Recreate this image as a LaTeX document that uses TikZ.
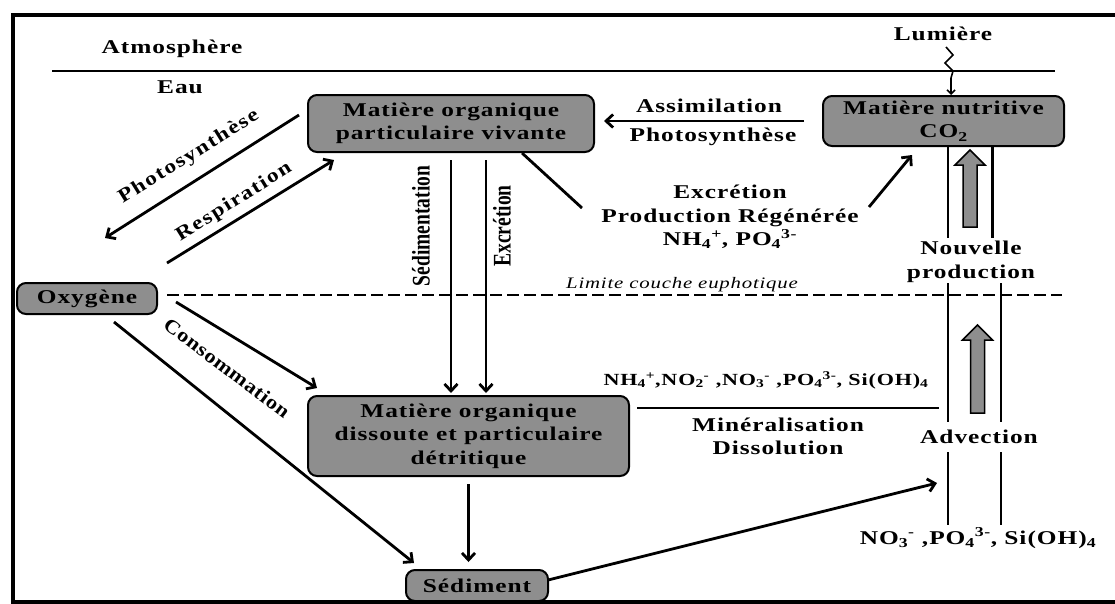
\documentclass[tikz,border=0pt]{standalone}
\usepackage{fontspec}
\usetikzlibrary{arrows.meta}
\newfontfamily\labfont{Liberation Serif}[FakeStretch=1.3, LetterSpace=5]
\newfontfamily\diagfont{Liberation Serif}[FakeStretch=1.2, LetterSpace=8]
\newfontfamily\consfont{Liberation Serif}[FakeStretch=1.15, LetterSpace=3]
\newfontfamily\plainfont{Liberation Serif}
\definecolor{boxgray}{RGB}{142,142,142}

% hollow grey arrow: x, bottom, tip
\newcommand{\grayup}[3]{%
  \filldraw[fill=boxgray, line width=1.5pt] (#1-7,#2) -- (#1-7,#3+15) -- (#1-15,#3+15) -- (#1,#3)
    -- (#1+15,#3+15) -- (#1+7,#3+15) -- (#1+7,#2) -- cycle;}

\begin{document}
\begin{tikzpicture}[x=1pt,y=-1pt,
  box/.style={draw, line width=2pt, rounded corners=9pt, fill=boxgray, align=center, inner sep=0pt,
    font=\labfont\bfseries\fontsize{19.5}{23.5}\selectfont},
  lbl/.style={align=center, inner sep=0pt, font=\labfont\bfseries\fontsize{19.5}{23.5}\selectfont},
  chem/.style={inner sep=0pt, font=\labfont\bfseries\fontsize{17}{20}\selectfont},
  slant/.style={inner sep=0pt, font=\diagfont\bfseries\fontsize{19.5}{23}\selectfont},
  vert/.style={inner sep=0pt, rotate=90, yscale=1.3, font=\plainfont\bfseries\fontsize{19.5}{23}\selectfont},
  arr/.style={line width=2.8pt, -{Straight Barb[length=7pt,width=13pt]}},
  flux/.style={line width=2.8pt},
]
\useasboundingbox (0,0) rectangle (1115,603);

% frame, surface and euphotic limit
\draw[line width=4pt] (1130,15) -- (12.5,15) -- (12.5,602) -- (1130,602);
\draw[line width=2pt] (52,71) -- (1055,71);
\draw[line width=2.6pt, dash pattern=on 12pt off 5pt] (167,295) -- (1062,295);

% compartments
\node[box, minimum width=286pt, minimum height=57pt] (mopv) at (451,123.5) {Matière organique\\particulaire vivante};
\node[box, minimum width=241pt, minimum height=50pt] (mnut) at (943.5,121) {Matière nutritive\\CO\textsubscript{2}};
\node[box, minimum width=140pt, minimum height=31pt] (oxy) at (87,298.5) {Oxygène};
\node[box, minimum width=321pt, minimum height=80pt] (modpd) at (468.5,436) {Matière organique\\dissoute et particulaire\\détritique};
\node[box, minimum width=142pt, minimum height=31pt] (sed) at (477,585.5) {Sédiment};

% labels
\node[lbl] (atm) at (172,49) {Atmosphère};
\node[lbl] (eau) at (180,87) {Eau};
\node[lbl] (lum) at (943,34) {Lumière};
\node[lbl] (assim) at (709,106) {Assimilation};
\node[lbl] (photob) at (713,137) {Photosynthèse};
\node[slant, rotate=32] (photo) at (189,157) {Photosynthèse};
\node[slant, rotate=32] (resp) at (234,202) {Respiration};
\node[inner sep=0pt, rotate=-37, font=\consfont\bfseries\fontsize{19.5}{23}\selectfont] (conso) at (227,368) {Consommation};
\node[vert] (sedlab) at (421,226) {Sédimentation};
\node[vert] (exclab) at (502,226) {Excrétion};
\node[lbl] (excr) at (730,217) {Excrétion\\Production Régénérée\\NH\textsubscript{4}\textsuperscript{+}, PO\textsubscript{4}\textsuperscript{3-}};
\node[lbl] (np) at (971,262) {Nouvelle\\production};
\node[inner sep=0pt, font=\labfont\itshape\fontsize{16}{19}\selectfont] (lim) at (682,285) {Limite couche euphotique};
\node[chem] (nh) at (766,380) {NH\textsubscript{4}\textsuperscript{+},NO\textsubscript{2}\textsuperscript{-} ,NO\textsubscript{3}\textsuperscript{-} ,PO\textsubscript{4}\textsuperscript{3-}, Si(OH)\textsubscript{4}};
\node[lbl] (minl) at (778,436.5) {Minéralisation\\Dissolution};
\node[lbl] (adv) at (979,437) {Advection};
\node[lbl] (no) at (978,538) {NO\textsubscript{3}\textsuperscript{-} ,PO\textsubscript{4}\textsuperscript{3-}, Si(OH)\textsubscript{4}};

% free ends
\coordinate (ph1) at (299,115);
\coordinate (ph2) at (105,238);
\coordinate (re1) at (167,263);
\coordinate (re2) at (334,160);
\coordinate (co1) at (176,302);
\coordinate (co2) at (317,388);
\coordinate (os1) at (114,322);
\coordinate (os2) at (414,563);
\coordinate (ex1) at (522,153);
\coordinate (ex2) at (582,208);
\coordinate (ex3) at (869,207);
\coordinate (ex4) at (912,155);
\coordinate (sa1) at (548,580);
\coordinate (sa2) at (937,483);
\coordinate (mi1) at (637,408);
\coordinate (mi2) at (939,408);

% fluxes
\draw[arr, shorten <=18pt, shorten >=9pt] (mnut.west) -- (mopv.east |- mnut.west);
\draw[arr] (ph1) -- (ph2);
\draw[arr] (re1) -- (re2);
\draw[arr, shorten <=7pt, shorten >=2pt] (mopv.south) -- (mopv.south |- modpd.north);
\draw[arr, shorten <=7pt, shorten >=2pt] ([xshift=35pt]mopv.south) -- ([xshift=35pt]mopv.south |- modpd.north);
\draw[flux] (ex1) -- (ex2);
\draw[arr] (ex3) -- (ex4);
\draw[arr] (co1) -- (co2);
\draw[arr] (os1) -- (os2);
\draw[arr, shorten <=7pt, shorten >=7pt] (modpd.south) -- (modpd.south |- sed.north);
\draw[arr] (sa1) -- (sa2);
\draw[flux] (mi1) -- (mi2);

% light
\draw[line width=1.6pt] (946,47) -- (953,55) -- (945,63) -- (953,71) -- (951,78);
\draw[line width=1.6pt, -{Straight Barb[length=4pt,width=8pt]}] (951,78) -- ([xshift=7.5pt]mnut.north);

% new production column
\draw[flux] (mnut.south -| 948,0) -- (948,238);
\draw[flux] (mnut.south -| 992.5,0) -- (992.5,238);
\draw[flux] (948,283) -- (948,422);
\draw[flux] (1001,283) -- (1001,422);
\draw[flux] (948,452) -- (948,525);
\draw[flux] (1001,452) -- (1001,525);
\grayup{970}{227}{150}
\grayup{977.5}{413}{325}

\end{tikzpicture}
\end{document}
